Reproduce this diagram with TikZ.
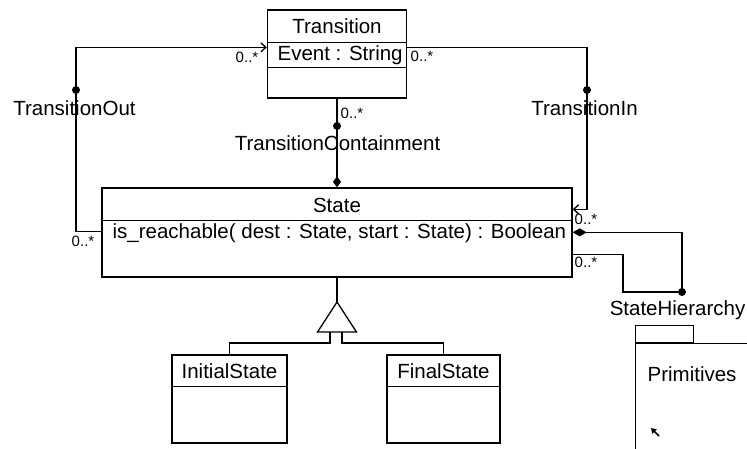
\documentclass[tikz,border=0pt]{standalone}
\usepackage{fontspec}
\setmainfont{Liberation Sans}
\usetikzlibrary{arrows.meta,positioning}
\tikzset{
  classbox/.style={draw, rectangle, inner sep=0pt},
  umltext/.style={font=\fontsize{20.5}{24}\selectfont, inner sep=0pt},
  mult/.style={font=\fontsize{15}{18}\selectfont, inner sep=0pt},
  assocdot/.style={circle, fill, inner sep=0pt, minimum size=8pt},
  navarrow/.style={-{Straight Barb[length=5pt,width=9pt]}},
}
\begin{document}
\begin{tikzpicture}[x=1pt, y=-1pt, line width=1.3pt]
    \useasboundingbox (0,0) rectangle (747,448);
    % classes
    \node[classbox, minimum width=139pt, minimum height=88pt] (trans) at (337,54) {};
    \node[classbox, minimum width=470pt, minimum height=89pt] (state) at (337,232.5) {};
    \node[classbox, minimum width=115pt, minimum height=88pt] (init) at (229.5,399) {};
    \node[classbox, minimum width=113pt, minimum height=88pt] (final) at (443.5,399) {};
    \draw ([yshift=-33pt]trans.north west) -- ([yshift=-33pt]trans.north east);
    \draw ([yshift=-58pt]trans.north west) -- ([yshift=-58pt]trans.north east);
    \draw ([yshift=-33pt]state.north west) -- ([yshift=-33pt]state.north east);
    \draw ([yshift=-32pt]init.north west) -- ([yshift=-32pt]init.north east);
    \draw ([yshift=-32pt]final.north west) -- ([yshift=-32pt]final.north east);
    \node[umltext] (transName) at (337,26) {Transition};
    \node[umltext, anchor=west] (transAttr) at (277,55) {Event : String};
    \node[umltext] (stateName) at (337,205) {State};
    \node[umltext, anchor=west] (stateOp) at (112,233) {is\_reachable( dest : State, start : State) : Boolean};
    \node[umltext] (initName) at (229.5,371) {InitialState};
    \node[umltext] (finalName) at (443.5,371) {FinalState};
    % package
    \node[classbox, anchor=north west, minimum width=130pt, minimum height=130pt] (prim) at (635,343) {};
    \node[classbox, anchor=south west, minimum width=58pt, minimum height=17pt] (primTab) at (prim.north west) {};
    \node[umltext, anchor=west] (primName) at (647,374) {Primitives};
    \draw[-{Triangle[length=5pt,width=6pt]}, line width=1.6pt] (659,436) -- (651,428);
    % associations
    \node[assocdot] (outDot) at (76,90) {};
    \node[assocdot] (inDot) at (587,90) {};
    \node[assocdot] (contDot) at (337,126) {};
    \node[assocdot] (hierDot) at (682,292) {};
    \draw[navarrow] ([yshift=-44pt]state.north west) -| (outDot.center) |- ([yshift=-38pt]trans.north west);
    \draw[navarrow] ([yshift=-38pt]trans.north east) -| (inDot.center) |- ([yshift=-22pt]state.north east);
    \draw[{Diamond[length=11pt,width=8pt]}-] (state.north) -- (contDot.center) -- (trans.south);
    \draw[{Diamond[length=14pt,width=8pt]}-] ([yshift=-45pt]state.north east) -| (hierDot.center) -- ++(-59,0) |- ([yshift=-67pt]state.north east);
    \node[umltext] (outLabel) at (74.5,108) {TransitionOut};
    \node[umltext] (inLabel) at (584.5,108) {TransitionIn};
    \node[umltext] (contLabel) at (337.5,143) {TransitionContainment};
    \node[umltext, anchor=east] (hierLabel) at (746,310) {StateHierarchy};
    \node[mult] (outTransMult) at (247,57) {0..*};
    \node[mult] (inTransMult) at (422,56) {0..*};
    \node[mult] (contMult) at (352,113) {0..*};
    \node[mult] (outStateMult) at (83,241) {0..*};
    \node[mult] (inStateMult) at (586,219) {0..*};
    \node[mult] (hierMult) at (586,262) {0..*};
    % generalization
    \coordinate (genTip) at (337,302);
    \draw (state.south) -- (genTip);
    \draw (genTip) -- ++(19.5,30) -- ++(-39,0) -- cycle;
    \draw ([xshift=-7pt,yshift=-30pt]genTip) -- ++(0,11) -| (init.north);
    \draw ([xshift=5pt,yshift=-30pt]genTip) -- ++(0,11) -| (final.north);
\end{tikzpicture}
\end{document}
